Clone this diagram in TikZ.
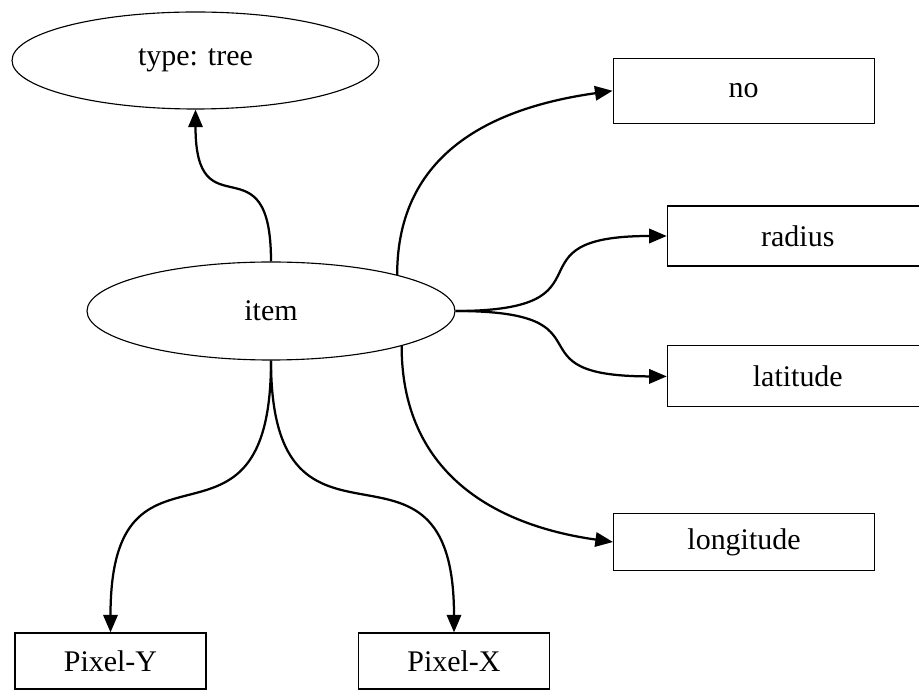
\documentclass[tikz,border=0pt]{standalone}
\usepackage{fontspec}
\setmainfont{Liberation Serif}
\usepackage{tikz}
\usetikzlibrary{shapes,arrows.meta}

\begin{document}
\begin{tikzpicture}[node distance = 3.5cm, auto, font=\fontsize{21.3}{25}\selectfont]
        \tikzstyle{record} = [ellipse, draw, line width=0.8pt, minimum width=9.2cm, minimum height=2.45cm, inner sep=0pt]
        \tikzstyle{field} = [rectangle, draw, line width=0.8pt, minimum width=6.525cm, minimum height=1.5cm, inner sep=0pt]
        \tikzstyle{coord} = [rectangle, draw, line width=0.8pt, minimum width=4.775cm, minimum height=1.4cm, inner sep=0pt]
        \tikzstyle{line} = [draw, line width=1.6pt, -{Triangle[length=0.44cm,width=0.36cm]}]

    \useasboundingbox (0,0) rectangle (22.975,-17.275);

    \node [record, minimum width=9.175cm, minimum height=2.425cm] (type tree) at (4.8875,-1.5125) {type: tree};
    \node [record] (item) at (6.775,-7.775) {item};
    \node [field, minimum height=1.625cm] (no) at (18.59,-2.27) {no};
    \node [field] (radius) at (19.945,-5.9) {radius};
    \node [field, below of=radius, node distance=3.51cm, minimum height=1.525cm] (latitude) {latitude};
    \node [field, minimum height=1.425cm] (longitude) at (18.6,-13.55) {longitude};
    \node [coord] (pixel y) at (2.7625,-16.525) {Pixel-Y};
    \node [coord, right of=pixel y, node distance=8.5875cm] (pixel x) {Pixel-X};

    \path [line] (item.north) to[out=90, in=-90, looseness=1.9] (type tree.south);
    \path [line] (item.16) to[out=90, in=188, looseness=1.1] (no.west);
    \path [line] (item.east) to[out=0, in=180, looseness=1.9] (radius.west);
    \path [line] (item.east) to[out=0, in=180, looseness=1.9] (latitude.west);
    \path [line] (item.-15) to[out=-90, in=172, looseness=1.1] (longitude.west);
    \path [line] (item.south) to[out=-90, in=90, looseness=1.8] (pixel y.north);
    \path [line] (item.south) to[out=-90, in=90, looseness=1.8] (pixel x.north);
    \end{tikzpicture}
\end{document}
